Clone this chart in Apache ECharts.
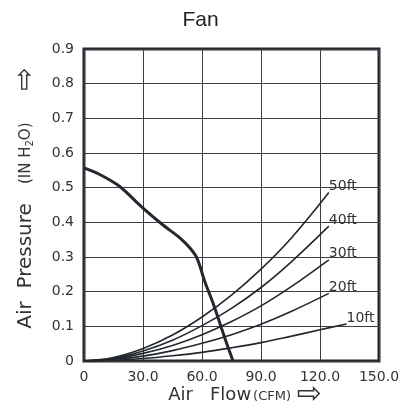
<!DOCTYPE html>
<html>
<head>
<meta charset="utf-8">
<script src="https://cdn.jsdelivr.net/npm/echarts@6/dist/echarts.min.js"></script>
<style>html,body{margin:0;padding:0;background:#fff;}#c{width:401px;height:408px;}</style>
</head>
<body>
<div id="c"></div>
<script>
// Fan performance curve
const fanFlow     = [0, 8, 18, 30, 40, 49, 54, 57.5, 61.5, 66, 70, 73.5, 75.8];
const fanPressure = [0.557, 0.538, 0.504, 0.441, 0.393, 0.354, 0.325, 0.296, 0.228, 0.161, 0.093, 0.035, 0];

// System (duct length) curves
const ductFlow   = [0, 15, 30, 45, 60, 75, 90, 105, 124.5];
const duct50ft   = [0, 0.010, 0.036, 0.075, 0.127, 0.190, 0.265, 0.352, 0.486];
const duct40ft   = [0, 0.008, 0.029, 0.060, 0.102, 0.152, 0.212, 0.284, 0.389];
const duct30ft   = [0, 0.006, 0.022, 0.045, 0.076, 0.114, 0.159, 0.213, 0.292];
const duct20ft   = [0, 0.004, 0.014, 0.030, 0.051, 0.076, 0.106, 0.142, 0.195];
const duct10Flow = [0, 15, 30, 45, 60, 75, 90, 105, 120, 133.5];
const duct10ft   = [0, 0.002, 0.007, 0.015, 0.025, 0.038, 0.053, 0.071, 0.090, 0.107];

const xTicks = [0, 30, 60, 90, 120, 150];
const yTicks = [0, 0.1, 0.2, 0.3, 0.4, 0.5, 0.6, 0.7, 0.8, 0.9];

const zip = (xs, ys) => xs.map((x, i) => [x, ys[i]]);
const ink = '#23272e';

const ductSeries = [
  ['50ft', ductFlow, duct50ft],
  ['40ft', ductFlow, duct40ft],
  ['30ft', ductFlow, duct30ft],
  ['20ft', ductFlow, duct20ft],
  ['10ft', duct10Flow, duct10ft]
].map(([name, xs, ys]) => ({
  name: name,
  type: 'line',
  smooth: 0.4,
  showSymbol: false,
  silent: true,
  data: zip(xs, ys),
  lineStyle: { color: ink, width: 1.6 },
  endLabel: {
    show: true, formatter: '{a}', distance: 0, offset: [0, -6],
    color: '#333', fontSize: 14, fontFamily: 'DejaVu Sans'
  }
}));

const chart = echarts.init(document.getElementById('c'), null, { renderer: 'canvas' });
chart.setOption({
  animation: false,
  backgroundColor: '#fff',
  title: {
    text: 'Fan', left: 'center', top: 10,
    padding: 0,
    textStyle: { fontFamily: 'Liberation Sans', fontSize: 21, fontWeight: 'normal', color: '#222' }
  },
  grid: {
    left: 84, right: 22, top: 49, bottom: 47,
    outerBoundsMode: 'none', containLabel: false,
    show: true, borderColor: ink, borderWidth: 3, backgroundColor: 'transparent'
  },
  graphic: [{
    type: 'text', silent: true,
    x: 245, y: 395,
    style: {
      text: 'Air   Flow{s|(CFM)} {a|⇨}',
      align: 'center', verticalAlign: 'middle',
      fill: '#333', fontSize: 18, fontFamily: 'DejaVu Sans',
      rich: {
        s: { fontSize: 13, fontFamily: 'DejaVu Sans', fill: '#333', padding: [3, 0, 0, 2] },
        a: { fontSize: 30, fontFamily: 'DejaVu Sans', fill: '#333' }
      }
    }
  }],
  xAxis: {
    type: 'value', min: xTicks[0], max: xTicks[xTicks.length - 1], interval: 30,
    axisLine: { show: false }, axisTick: { show: false },
    splitLine: { lineStyle: { color: '#3a3d42', width: 1 } },
    axisLabel: {
      margin: 9, color: '#333', fontSize: 14, fontFamily: 'DejaVu Sans',
      formatter: v => v === 0 ? '0' : v.toFixed(1)
    }
  },
  yAxis: {
    type: 'value', min: yTicks[0], max: yTicks[yTicks.length - 1], interval: 0.1,
    axisLine: { show: false }, axisTick: { show: false },
    splitLine: { lineStyle: { color: '#3a3d42', width: 1 } },
    axisLabel: {
      margin: 10, color: '#333', fontSize: 14, fontFamily: 'DejaVu Sans',
      formatter: v => v === 0 ? '0' : v.toFixed(1)
    },
    name: 'Air  Pressure   {s|(IN H}{sub|2}{s|O)}     {a|⇨}',
    nameLocation: 'middle', nameRotate: 90, nameGap: 44,
    nameTextStyle: {
      color: '#333', fontSize: 20, fontFamily: 'DejaVu Sans', padding: [0, 0, 0, 14],
      rich: {
        s: { fontSize: 15, fontFamily: 'DejaVu Sans', color: '#333' },
        sub: { fontSize: 10, fontFamily: 'DejaVu Sans', color: '#333', padding: [9, 0, 0, 0] },
        a: { fontSize: 28, fontFamily: 'DejaVu Sans', color: '#333' }
      }
    }
  },
  series: [
    {
      name: 'Fan', type: 'line', smooth: 0.3, showSymbol: false, silent: true,
      data: zip(fanFlow, fanPressure),
      lineStyle: { color: ink, width: 3 }
    }
  ].concat(ductSeries)
});
</script>
</body>
</html>
